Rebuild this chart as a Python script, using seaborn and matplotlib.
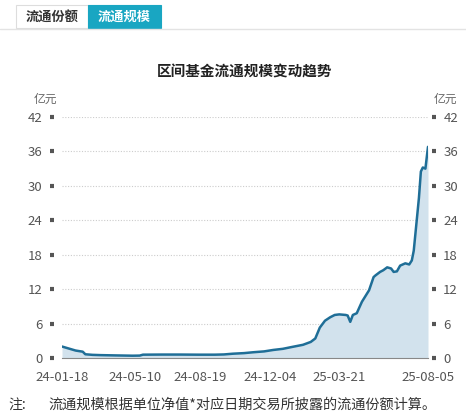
import pandas as pd
import matplotlib.pyplot as plt
import seaborn as sns

# values (亿元)
dates = ["2024-01-18", "2024-01-24", "2024-02-02", "2024-02-08", "2024-02-19",
         "2024-02-23", "2024-03-05", "2024-03-18", "2024-04-10", "2024-05-06",
         "2024-05-17", "2024-05-22", "2024-06-20", "2024-07-18", "2024-08-15",
         "2024-09-10", "2024-09-24", "2024-10-08", "2024-10-25", "2024-11-08",
         "2024-11-25", "2024-12-09", "2024-12-24", "2025-01-06", "2025-01-15",
         "2025-01-24", "2025-02-05", "2025-02-12", "2025-02-19", "2025-02-27",
         "2025-03-07", "2025-03-14", "2025-03-21", "2025-03-31", "2025-04-03",
         "2025-04-07", "2025-04-11", "2025-04-17", "2025-04-25", "2025-05-06",
         "2025-05-13", "2025-05-16", "2025-05-23", "2025-05-28", "2025-06-03",
         "2025-06-09", "2025-06-13", "2025-06-18", "2025-06-23", "2025-07-01",
         "2025-07-07", "2025-07-11", "2025-07-14", "2025-07-18", "2025-07-22",
         "2025-07-25", "2025-07-28", "2025-08-01", "2025-08-05"]
scale = [2.0, 1.8, 1.5, 1.3, 1.1,
         0.65, 0.55, 0.5, 0.45, 0.4,
         0.42, 0.58, 0.6, 0.6, 0.58,
         0.58, 0.62, 0.75, 0.85, 1.0,
         1.15, 1.4, 1.6, 1.9, 2.1,
         2.3, 2.8, 3.4, 5.3, 6.5,
         7.1, 7.5, 7.6, 7.5, 7.4,
         6.3, 7.5, 7.8, 9.8, 11.8,
         14.1, 14.4, 15.0, 15.3, 15.8,
         15.6, 15.0, 15.1, 16.1, 16.5,
         16.3, 17.0, 18.7, 23.3, 27.9,
         32.5, 33.2, 33.0, 36.8]
tick_dates = ["2024-01-18", "2024-05-10", "2024-08-19", "2024-12-04",
              "2025-03-21", "2025-07-03", "2025-08-05"]
tick_labels = ["24-01-18", "24-05-10", "24-08-19", "24-12-04",
               "25-03-21", "", "25-08-05"]
y_ticks = [0, 6, 12, 18, 24, 30, 36, 42]

df = pd.DataFrame({"date": pd.to_datetime(dates), "scale": scale})

sns.set_style("white")
plt.rcParams["font.family"] = ["Noto Sans CJK SC", "DejaVu Sans"]

fig = plt.figure(figsize=(4.66, 4.15), dpi=100)
ax = fig.add_axes([62 / 466, 1 - 358 / 415, 366 / 466, 241 / 415])

ax.fill_between(df["date"], df["scale"], 0, color="#d2e2ed", lw=0)
sns.lineplot(data=df, x="date", y="scale", ax=ax, color="#1f6e97", lw=1.8)

ax.set_xlim(df["date"].iloc[0], df["date"].iloc[-1])
ax.set_ylim(0, 42)
ax.set_xlabel("")
ax.set_ylabel("")
ax.set_yticks(y_ticks)
ax.yaxis.grid(True, color="#cccccc", ls=(0, (1, 1.5)), lw=0.8)
ax.set_xticks(pd.to_datetime(tick_dates))
ax.set_xticklabels(tick_labels)

for s in ["top", "right", "left"]:
    ax.spines[s].set_visible(False)
ax.spines["bottom"].set_color("#888888")
ax.spines["left"].set_position(("outward", 6))
ax.tick_params(axis="x", length=4, width=0.8, color="#888888",
               labelsize=9.5, labelcolor="#555555", pad=5)
ax.tick_params(axis="y", left=True, length=3, width=3, color="#555555",
               labelsize=9.5, labelcolor="#555555", pad=5)

ax2 = ax.twinx()
ax2.set_ylim(0, 42)
ax2.set_yticks(y_ticks)
for s in ["top", "left", "bottom", "right"]:
    ax2.spines[s].set_visible(False)
ax2.spines["right"].set_position(("outward", 3))
ax2.tick_params(axis="y", right=True, length=3, width=3, color="#555555",
                labelsize=9.5, labelcolor="#555555", pad=5)
ax2.grid(False)

# units, title, footnote
fig.text(45 / 466, 1 - 99 / 415, "亿元", fontsize=8.5, color="#666666",
         ha="center", va="center")
fig.text(445 / 466, 1 - 99 / 415, "亿元", fontsize=8.5, color="#666666",
         ha="center", va="center")
fig.text(245 / 466, 1 - 72 / 415, "区间基金流通规模变动趋势", fontsize=10.5,
         fontweight="bold", color="#222222", ha="center", va="center")
fig.text(8 / 466, 1 - 405 / 415, "注:", fontsize=10, color="#333333",
         ha="left", va="center")
fig.text(48 / 466, 1 - 405 / 415, "流通规模根据单位净值*对应日期交易所披露的流通份额计算。",
         fontsize=10.2, color="#333333", ha="left", va="center")

# tab buttons on top
fig.patches.append(plt.Rectangle((16 / 466, 1 - 28 / 415), 72 / 466, 23 / 415,
                                 transform=fig.transFigure, facecolor="white",
                                 edgecolor="#dddddd", lw=0.8))
fig.patches.append(plt.Rectangle((88 / 466, 1 - 28 / 415), 73 / 466, 23 / 415,
                                 transform=fig.transFigure, facecolor="#19a6c2",
                                 edgecolor="#19a6c2", lw=0.8))
fig.add_artist(plt.Line2D([0, 1], [1 - 29 / 415, 1 - 29 / 415],
                          transform=fig.transFigure, color="#e3e3e3", lw=1))
fig.text(52 / 466, 1 - 16.5 / 415, "流通份额", fontsize=9.5, fontweight="bold",
         color="#333333", ha="center", va="center")
fig.text(124.5 / 466, 1 - 16.5 / 415, "流通规模", fontsize=9.5, fontweight="bold",
         color="white", ha="center", va="center")

fig.savefig("out.png", dpi=100)
